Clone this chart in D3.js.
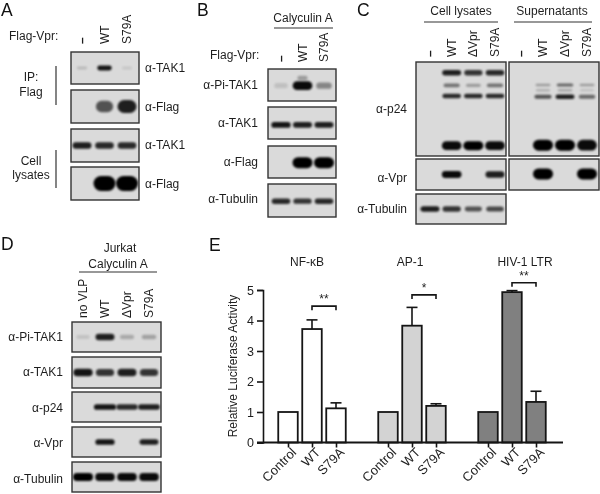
<!DOCTYPE html>
<html>

<head>
    <meta charset="utf-8">
    <style>
        body {
            margin: 0;
            background: white;
        }

        svg {
            display: block;
            font-family: 'Liberation Sans', Arial, sans-serif;
            filter: blur(0.35px);
        }

        text {
            fill: #1e1e1e;
            font-size: 12px;
        }

        .letter {
            font-size: 17.5px;
            fill: #111;
        }
    </style>
</head>

<body>
    <svg width="600" height="494"></svg>

    <script src="https://d3js.org/d3.v7.min.js"></script>
    <script>
        // band signal per lane, read by eye (0 = no band, 1 = saturated)
        let lanesA = ["-", "WT", "S79A"]
        let lanesC = ["-", "WT", "ΔVpr", "S79A"]
        let lanesD = ["no VLP", "WT", "ΔVpr", "S79A"]

        let ipTak1 = [0.1, 0.9, 0.04]
        let ipFlag = [0, 0.6, 0.85]
        let lysTak1 = [0.85, 0.8, 0.8]
        let lysFlag = [0, 1, 1]

        let bPi = [0.07, 0.95, 0.35]
        let bPiSmear = [0, 0.25, 0]
        let bTak1 = [0.9, 0.85, 0.85]
        let bFlag = [0, 1, 1]
        let bTub = [0.8, 0.75, 0.8]

        let cP55 = [0, 0.85, 0.75, 0.8]
        let cP41 = [0, 0.45, 0.25, 0.45]
        let cP40 = [0, 0.8, 0.8, 0.8]
        let cP24 = [0, 0.95, 1, 0.95]
        let sP55 = [0, 0.25, 0.5, 0.25]
        let sP41 = [0, 0.15, 0.2, 0.08]
        let sP40 = [0, 0.6, 0.85, 0.5]
        let sP24 = [0, 1, 1, 0.95]
        let cVpr = [0, 0.95, 0, 0.85]
        let sVpr = [0, 1, 0, 1]
        let cTub = [0.85, 0.75, 0.6, 0.65]

        let dPi = [0.06, 0.85, 0.18, 0.22]
        let dTak1 = [0.9, 0.75, 0.85, 0.75]
        let dP24 = [0, 0.9, 0.8, 0.85]
        let dVpr = [0, 0.9, 0, 0.85]
        let dTub = [1, 0.95, 0.95, 0.95]

        // luciferase panel
        let groups = ["NF-κB", "AP-1", "HIV-1 LTR"]
        let conditions = ["Control", "WT", "S79A"]
        let yTicks = [0, 1, 2, 3, 4, 5]
        let nfkb = [1, 3.72, 1.12]
        let ap1 = [1, 3.83, 1.2]
        let ltr = [1, 4.93, 1.33]
        let nfkbErr = [0, 4.02, 1.3]
        let ap1Err = [0, 4.43, 1.27]
        let ltrErr = [0, 4.98, 1.68]
        let stars = ["**", "*", "**"]
        let bracketLevel = [4.47, 4.84, 5.24]

        let svg = d3.select("svg")

        let defs = svg.append("defs")
        defs.append("filter").attr("id", "soft")
            .attr("x", "-30%").attr("y", "-80%").attr("width", "160%").attr("height", "260%")
            .append("feGaussianBlur").attr("stdDeviation", 1.3)

        let bandOpacity = d3.scaleLinear().domain([0, 1]).range([0.05, 1])
        let bandWidth = d3.scaleLinear().domain([0, 1]).range([13, 20])

        // one gel panel: box + rows of blurred bands
        let clipCount = 0
        function blot(x, y, w, h, laneRange, lanes, rows) {
            let laneX = d3.scalePoint().domain(lanes).range(laneRange)
            let rowY = d3.scaleLinear().domain([0, 1]).range([y, y + h])
            let id = "clip" + (clipCount++)

            defs.append("clipPath").attr("id", id)
                .append("rect").attr("x", x).attr("y", y).attr("width", w).attr("height", h)

            let g = svg.append("g")

            g.append("rect")
                .attr("x", x).attr("y", y).attr("width", w).attr("height", h)
                .attr("fill", "#dadada")

            let bands = g.append("g").attr("clip-path", "url(#" + id + ")")
            rows.forEach(r => {
                bands.selectAll(null)
                    .data(r.signal.map((s, i) => ({ s: s, lane: lanes[i] })).filter(d => d.s > 0))
                    .join("rect")
                    .attr("x", d => laneX(d.lane) - bandWidth(d.s) * (r.wide || 1) / 2)
                    .attr("width", d => bandWidth(d.s) * (r.wide || 1))
                    .attr("y", d => rowY(r.at) - r.size * (0.55 + 0.45 * d.s) / 2)
                    .attr("height", d => r.size * (0.55 + 0.45 * d.s))
                    .attr("rx", d => r.size * (0.55 + 0.45 * d.s) / 2)
                    .attr("fill", "#050505")
                    .attr("opacity", d => bandOpacity(d.s))
                    .attr("filter", "url(#soft)")
            })

            g.append("rect")
                .attr("x", x).attr("y", y).attr("width", w).attr("height", h)
                .attr("fill", "none")
                .attr("stroke", "#333")
                .attr("stroke-width", 1.4)
        }

        function label(x, y, txt, anchor) {
            return svg.append("text")
                .attr("x", x).attr("y", y)
                .attr("text-anchor", anchor || "start")
                .text(txt)
        }

        function rule(x1, y1, x2, y2) {
            svg.append("line")
                .attr("x1", x1).attr("y1", y1).attr("x2", x2).attr("y2", y2)
                .attr("stroke", "#333")
                .attr("stroke-width", 1.2)
        }

        // rotated lane names over a panel
        function laneLabels(lanes, laneRange, bottom) {
            let laneX = d3.scalePoint().domain(lanes).range(laneRange)
            svg.selectAll(null)
                .data(lanes)
                .join("text")
                .attr("transform", d => "translate(" + (laneX(d) + 4) + "," + bottom + ") rotate(-90)")
                .style("font-weight", d => d == "-" ? "bold" : null)
                .text(d => d == "-" ? "–" : d)
        }

        // panel letters
        let letters = [["A", 1, 16], ["B", 197, 16], ["C", 357, 16], ["D", 1, 250], ["E", 209, 251]]
        svg.selectAll(".letter")
            .data(letters)
            .join("text")
            .attr("class", "letter")
            .attr("x", d => d[1])
            .attr("y", d => d[2])
            .text(d => d[0])

        // A
        let rangeA = [82, 127]
        blot(71, 52, 68, 32, rangeA, lanesA, [{ signal: ipTak1, at: 0.5, size: 5, wide: 0.75 }])
        blot(71, 90, 68, 33, rangeA, lanesA, [{ signal: ipFlag, at: 0.5, size: 14 }])
        blot(71, 129, 68, 33, rangeA, lanesA, [{ signal: lysTak1, at: 0.5, size: 7 }])
        blot(71, 167, 68, 33, rangeA, lanesA, [{ signal: lysFlag, at: 0.5, size: 15, wide: 1.1 }])
        laneLabels(lanesA, rangeA, 44)
        label(9, 40, "Flag-Vpr:")
        label(31, 81, "IP:", "middle")
        label(31, 96, "Flag", "middle")
        label(31, 165, "Cell", "middle")
        label(31, 179, "lysates", "middle")
        rule(56, 66, 56, 105)
        rule(56, 150, 56, 188)
        label(145, 72, "α-TAK1")
        label(145, 111, "α-Flag")
        label(145, 149, "α-TAK1")
        label(145, 188, "α-Flag")

        // B
        let rangeB = [281, 324]
        blot(268, 69, 68, 32, rangeB, lanesA, [
            { signal: bPiSmear, at: 0.28, size: 7, wide: 0.7 },
            { signal: bPi, at: 0.52, size: 9 }
        ])
        blot(268, 107, 68, 32, rangeB, lanesA, [{ signal: bTak1, at: 0.56, size: 6 }])
        blot(268, 146, 68, 32, rangeB, lanesA, [{ signal: bFlag, at: 0.52, size: 11 }])
        blot(268, 184, 68, 33, rangeB, lanesA, [{ signal: bTub, at: 0.52, size: 6 }])
        laneLabels(lanesA, rangeB, 62)
        label(303, 22, "Calyculin A", "middle")
        rule(274, 28, 333, 28)
        label(210, 59, "Flag-Vpr:")
        label(258, 89, "α-Pi-TAK1", "end")
        label(258, 127, "α-TAK1", "end")
        label(258, 166, "α-Flag", "end")
        label(258, 203, "α-Tubulin", "end")

        // C
        let rangeC = [430, 495]
        let rangeS = [521, 587]
        blot(416, 62, 90, 94, rangeC, lanesC, [
            { signal: cP55, at: 0.114, size: 6 },
            { signal: cP41, at: 0.248, size: 5 },
            { signal: cP40, at: 0.362, size: 5 },
            { signal: cP24, at: 0.89, size: 9 }
        ])
        blot(509, 62, 90, 94, rangeS, lanesC, [
            { signal: sP55, at: 0.245, size: 4 },
            { signal: sP41, at: 0.3, size: 4 },
            { signal: sP40, at: 0.37, size: 5 },
            { signal: sP24, at: 0.885, size: 11 }
        ])
        blot(416, 159, 90, 31, rangeC, lanesC, [{ signal: cVpr, at: 0.5, size: 7 }])
        blot(509, 159, 90, 31, rangeS, lanesC, [{ signal: sVpr, at: 0.48, size: 11 }])
        blot(416, 194, 90, 30, rangeC, lanesC, [{ signal: cTub, at: 0.5, size: 6 }])
        laneLabels(lanesC, rangeC, 57)
        laneLabels(lanesC, rangeS, 57)
        label(461, 15, "Cell lysates", "middle")
        rule(424, 22, 498, 22)
        label(552, 15, "Supernatants", "middle")
        rule(514, 22, 592, 22)
        label(407, 113, "α-p24", "end")
        label(407, 182, "α-Vpr", "end")
        label(407, 213, "α-Tubulin", "end")

        // D
        let rangeD = [83, 149]
        blot(72, 322, 89, 30, rangeD, lanesD, [{ signal: dPi, at: 0.5, size: 7 }])
        blot(72, 357, 89, 31, rangeD, lanesD, [{ signal: dTak1, at: 0.5, size: 8 }])
        blot(72, 392, 89, 30, rangeD, lanesD, [{ signal: dP24, at: 0.5, size: 6, wide: 1.15 }])
        blot(72, 427, 89, 30, rangeD, lanesD, [{ signal: dVpr, at: 0.5, size: 6 }])
        blot(72, 462, 89, 30, rangeD, lanesD, [{ signal: dTub, at: 0.5, size: 8 }])
        laneLabels(lanesD, rangeD, 318)
        label(120, 252, "Jurkat", "middle")
        label(118, 268, "Calyculin A", "middle")
        rule(79, 272, 157, 272)
        label(63, 341, "α-Pi-TAK1", "end")
        label(63, 376, "α-TAK1", "end")
        label(63, 412, "α-p24", "end")
        label(63, 447, "α-Vpr", "end")
        label(63, 483, "α-Tubulin", "end")

        // E, bar chart
        let y = d3.scaleLinear().domain([0, 5]).range([442.5, 290])
        let xGroup = d3.scalePoint().domain(groups).range([312, 512])
        let xCond = d3.scalePoint().domain(conditions).range([-24, 24])
        let barW = 19.5
        let fills = ["#ffffff", "#d3d3d3", "#808080"]
        let groupVals = [nfkb, ap1, ltr]
        let groupErr = [nfkbErr, ap1Err, ltrErr]
        let chartInk = "#151515"

        let rows = []
        groups.forEach((g, gi) => {
            conditions.forEach((c, ci) => {
                rows.push({ group: g, gi: gi, cond: c, val: groupVals[gi][ci], err: groupErr[gi][ci], x: xGroup(g) + xCond(c) })
            })
        })

        let bars = svg.append("g")

        bars.selectAll("rect")
            .data(rows)
            .join("rect")
            .attr("x", d => d.x - barW / 2)
            .attr("width", barW)
            .attr("y", d => y(d.val))
            .attr("height", d => y(0) - y(d.val))
            .attr("fill", d => fills[d.gi])
            .attr("stroke", chartInk)
            .attr("stroke-width", 1.8)

        // error bars only go up
        let errs = rows.filter(d => d.err > 0)
        bars.selectAll(".stem")
            .data(errs)
            .join("line")
            .attr("class", "stem")
            .attr("x1", d => d.x).attr("x2", d => d.x)
            .attr("y1", d => y(d.val)).attr("y2", d => y(d.err))
            .attr("stroke", chartInk).attr("stroke-width", 1.6)

        bars.selectAll(".cap")
            .data(errs)
            .join("line")
            .attr("class", "cap")
            .attr("x1", d => d.x - 5.5).attr("x2", d => d.x + 5.5)
            .attr("y1", d => y(d.err)).attr("y2", d => y(d.err))
            .attr("stroke", chartInk).attr("stroke-width", 1.6)

        // axes
        let yAxis = svg.append("g")
            .attr("transform", "translate(263,0)")
            .call(d3.axisLeft(y).tickValues(yTicks).tickFormat(d3.format("d")).tickSizeOuter(0).tickSize(6).tickPadding(3))
        yAxis.selectAll("path,line").attr("stroke", chartInk).attr("stroke-width", 1.6)
        yAxis.selectAll("text").style("font-size", "12.5px")

        let xKeys = rows.map(d => d.group + "|" + d.cond)
        let xAll = d3.scaleOrdinal().domain(xKeys).range(rows.map(d => d.x))

        let xAxis = svg.append("g")
            .attr("transform", "translate(0,442.5)")
            .call(d3.axisBottom(xAll).tickSize(5).tickFormat(d => d.split("|")[1]))
        xAxis.select(".domain").remove()
        xAxis.selectAll("line").attr("stroke", chartInk).attr("stroke-width", 1.6)
        xAxis.selectAll("text")
            .style("font-size", "13px")
            .attr("text-anchor", "end")
            .attr("dy", null)
            .attr("transform", "translate(3,5) rotate(-45)")
            .attr("y", 8)
            .attr("x", 0)

        svg.append("line")
            .attr("x1", 257).attr("x2", 563)
            .attr("y1", y(0)).attr("y2", y(0))
            .attr("stroke", chartInk).attr("stroke-width", 1.8)

        svg.append("text")
            .attr("transform", "translate(237,366) rotate(-90)")
            .attr("text-anchor", "middle")
            .text("Relative Luciferase Activity")

        // group titles, significance brackets
        let titleX = [307, 410, 525]
        groups.forEach((g, gi) => {
            label(titleX[gi], 266, g, "middle")

            let x1 = xGroup(g) + xCond("WT")
            let x2 = xGroup(g) + xCond("S79A")
            let top = y(bracketLevel[gi])
            svg.append("path")
                .attr("d", d3.line()([[x1, top + 4], [x1, top], [x2, top], [x2, top + 4]]))
                .attr("fill", "none")
                .attr("stroke", chartInk)
                .attr("stroke-width", 1.6)
            label((x1 + x2) / 2, top - 3, stars[gi], "middle")
        })
    </script>
</body>

</html>
